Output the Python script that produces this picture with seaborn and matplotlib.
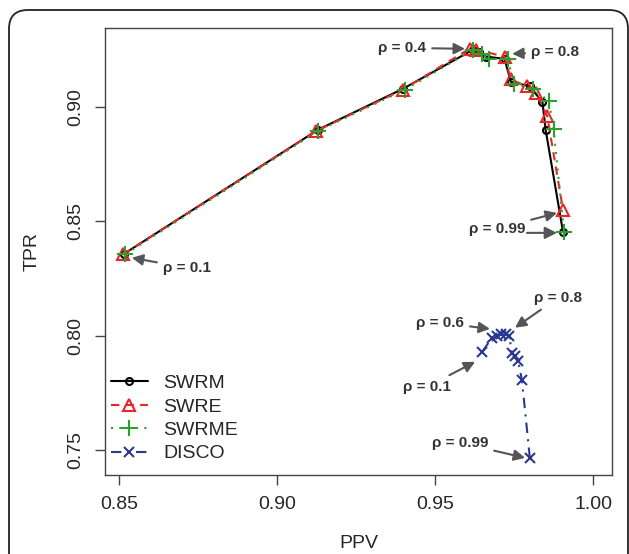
"""
plot.py

PPV vs TPR trade-off curves for SWRM / SWRE / SWRME / DISCO
"""

import numpy as np
import pandas as pd
import seaborn as sns
import matplotlib
matplotlib.use("Agg")
import matplotlib.pyplot as plt
from matplotlib.patches import FancyBboxPatch


# DATA
swrm_ppv = [0.8516, 0.9130, 0.9400, 0.9620, 0.9640, 0.9660, 0.9720, 0.9740, 0.9800, 0.9840, 0.9850, 0.9905]
swrm_tpr = [0.8357, 0.8900, 0.9080, 0.9250, 0.9240, 0.9220, 0.9210, 0.9110, 0.9090, 0.9020, 0.8900, 0.8453]

swre_ppv = [0.8513, 0.9125, 0.9398, 0.9610, 0.9630, 0.9720, 0.9740, 0.9790, 0.9820, 0.9855, 0.9905]
swre_tpr = [0.8355, 0.8895, 0.9075, 0.9255, 0.9250, 0.9220, 0.9120, 0.9090, 0.9060, 0.8960, 0.8550]

swrme_ppv = [0.8520, 0.9130, 0.9405, 0.9620, 0.9650, 0.9670, 0.9730, 0.9750, 0.9810, 0.9860, 0.9875, 0.9908]
swrme_tpr = [0.8355, 0.8895, 0.9075, 0.9250, 0.9230, 0.9210, 0.9210, 0.9100, 0.9080, 0.9025, 0.8905, 0.8453]

disco_ppv = [0.9650, 0.9680, 0.9695, 0.9710, 0.9725, 0.9735, 0.9743, 0.9752, 0.9763, 0.9775, 0.9800]
disco_tpr = [0.7930, 0.7990, 0.8000, 0.8005, 0.8005, 0.8000, 0.7925, 0.7910, 0.7890, 0.7805, 0.7465]

x_ticks = [0.85, 0.90, 0.95, 1.00]
y_ticks = [0.75, 0.80, 0.85, 0.90]

# (label, text position, arrow head)
ANNOTATIONS = [
    ("ρ = 0.4", (0.9396, 0.9258), (0.9595, 0.9254)),
    ("ρ = 0.8", (0.9880, 0.9240), (0.9744, 0.9232)),
    ("ρ = 0.99", (0.9696, 0.8467), (0.9886, 0.8536)),
    ("ρ = 0.1", (0.8715, 0.8296), (0.8541, 0.8340)),
    ("ρ = 0.6", (0.9516, 0.8056), (0.9674, 0.8029)),
    ("ρ = 0.8", (0.9889, 0.8165), (0.9753, 0.8034)),
    ("ρ = 0.1", (0.9475, 0.7776), (0.9627, 0.7885)),
    ("ρ = 0.99", (0.9579, 0.7531), (0.9785, 0.7465)),
]


sns.set_theme(style="ticks")
plt.rcParams["font.family"] = ["Liberation Sans", "DejaVu Sans"]

fig = plt.figure(figsize=(6.29, 5.54), dpi=100)
ax = fig.add_axes([0.1669, 0.1426, 0.8061, 0.8069])

# rounded frame around the figure
fig.patches.append(FancyBboxPatch(
    (9 / 629, -0.1), 619 / 629, 1 - 10 / 554 + 0.1,
    boxstyle="round,pad=0,rounding_size=0.03",
    transform=fig.transFigure, fill=False, edgecolor="#222222", linewidth=1.3,
    mutation_aspect=629 / 554,
))

series = [
    ("SWRM", swrm_ppv, swrm_tpr, "black", "-", "o", 5),
    ("SWRE", swre_ppv, swre_tpr, "#e8262a", (0, (4, 3)), "^", 8),
    ("SWRME", swrme_ppv, swrme_tpr, "#2ca02c", (0, (1, 3)), "+", 11),
    ("DISCO", disco_ppv, disco_tpr, "#2b3990", (0, (5, 3, 1, 3)), "x", 7.5),
]
for name, xs, ys, color, ls, mk, ms in series:
    sns.lineplot(
        x=xs, y=ys, ax=ax, sort=False, estimator=None, label=name,
        color=color, linestyle=ls, linewidth=1.5, marker=mk, markersize=ms,
        markerfacecolor="none", markeredgecolor=color, markeredgewidth=1.5,
    )

for text, xytext, xy in ANNOTATIONS:
    ax.annotate(
        text, xy=xy, xytext=xytext, ha="center", va="center",
        fontsize=11, fontweight="bold", color="#333333",
        arrowprops=dict(arrowstyle="-|>,head_length=0.6,head_width=0.3",
                        color="#555555", lw=1.5, shrinkA=2, shrinkB=0),
    )
# second arrow for rho = 0.99 on the SWR curves
ax.annotate(
    "", xy=(0.9886, 0.8449), xytext=(0.9791, 0.8449),
    arrowprops=dict(arrowstyle="-|>,head_length=0.6,head_width=0.3",
                    color="#555555", lw=1.5, shrinkA=0, shrinkB=0),
)

ax.set_xlim(0.8456, 1.006)
ax.set_ylim(0.739, 0.9345)
ax.set_xticks(x_ticks)
ax.set_yticks(y_ticks)
ax.set_xticklabels([f"{v:.2f}" for v in x_ticks], fontsize=14)
ax.set_yticklabels([f"{v:.2f}" for v in y_ticks], fontsize=14, rotation=90, va="center")
ax.tick_params(direction="out", length=7, width=1, color="#444444", pad=8)
for sp in ax.spines.values():
    sp.set_color("#444444")
    sp.set_linewidth(1)
ax.set_xlabel("PPV", fontsize=14, labelpad=16)
ax.set_ylabel("TPR", fontsize=14, labelpad=19)

ax.legend(loc="lower left", bbox_to_anchor=(0.0, 0.015), frameon=False, fontsize=14,
          handlelength=1.9, handletextpad=0.8, labelspacing=0.3, borderaxespad=0.0,
          borderpad=0.3)

fig.savefig("out.png", dpi=100)
